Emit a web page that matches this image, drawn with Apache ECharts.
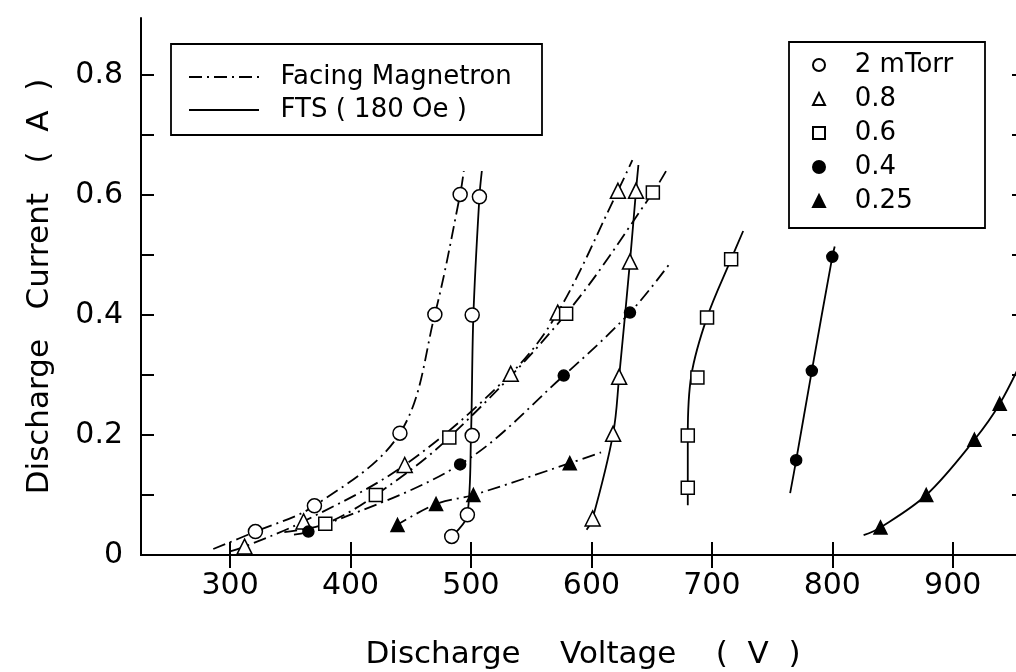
<!DOCTYPE html>
<html>
<head>
<meta charset="utf-8">
<script src="https://cdn.jsdelivr.net/npm/echarts@6/dist/echarts.min.js"></script>
<style>
html, body { margin: 0; padding: 0; background: #fff; }
#chart { width: 1016px; height: 672px; }
</style>
</head>
<body>
<div id="chart"></div>
<script>
// measured points [voltage V, current A]
// facing magnetron (dash-dot curves)
const fm2 = [[321, 0.039], [370, 0.082], [441, 0.203], [470, 0.401], [491, 0.601]];
const fm08 = [[312, 0.014], [361, 0.056], [445, 0.150], [533, 0.302], [572, 0.404], [622, 0.607]];
const fm06 = [[379, 0.052], [421, 0.100], [482, 0.196], [579, 0.402], [651, 0.604]];
const fm04 = [[365, 0.039], [491, 0.151], [577, 0.299], [632, 0.404]];
const fm025 = [[439, 0.050], [471, 0.085], [502, 0.100], [582, 0.153]];
// FTS 180 Oe (solid curves)
const fts2 = [[484, 0.031], [497, 0.067], [501, 0.199], [501, 0.400], [507, 0.597]];
const fts08 = [[601, 0.061], [618, 0.202], [623, 0.297], [632, 0.489], [637, 0.607]];
const fts06 = [[680, 0.112], [680, 0.199], [688, 0.296], [696, 0.396], [716, 0.493]];
const fts04 = [[770, 0.158], [783, 0.307], [800, 0.497]];
const fts025 = [[840, 0.046], [878, 0.100], [918, 0.192], [939, 0.252]];

// fitted curves
const fm2Curve = [[286, 0.010], [321, 0.039], [370, 0.082], [441, 0.203], [470, 0.401], [491, 0.601], [494, 0.640]];
const fm08Curve = [[300, 0.006], [312, 0.014], [361, 0.056], [445, 0.150], [533, 0.302], [572, 0.404], [622, 0.607], [634, 0.658]];
const fm06Curve = [[345, 0.038], [379, 0.052], [421, 0.100], [482, 0.196], [579, 0.402], [651, 0.604], [664, 0.647]];
const fm04Curve = [[353, 0.034], [365, 0.039], [491, 0.151], [577, 0.299], [632, 0.404], [664, 0.483]];
const fm025Curve = [[437, 0.048], [471, 0.085], [502, 0.100], [582, 0.153], [608, 0.171]];
const fts2Curve = [[484, 0.031], [497, 0.067], [500, 0.199], [502, 0.400], [507, 0.597], [509, 0.640]];
const fts08Curve = [[596, 0.042], [601, 0.061], [618, 0.202], [623, 0.297], [632, 0.489], [637, 0.607], [639, 0.650]];
const fts06Curve = [[680, 0.083], [680, 0.112], [680, 0.199], [683, 0.300], [696, 0.396], [716, 0.493], [726, 0.540]];
const fts04Curve = [[765, 0.103], [770, 0.158], [783, 0.307], [800, 0.497], [802, 0.514]];
const fts025Curve = [[826, 0.033], [840, 0.046], [878, 0.100], [918, 0.192], [939, 0.252], [960, 0.335]];

const xTicks = [300, 400, 500, 600, 700, 800, 900];
const yTicks = [0, 0.1, 0.2, 0.3, 0.4, 0.5, 0.6, 0.7, 0.8];
const yLabels = [0, 0.2, 0.4, 0.6, 0.8];

const FONT = 'DejaVu Sans';
const dashDot = [13, 5, 2, 5];

let chart = echarts.init(document.getElementById('chart'));

function curve(name, data, dashed) {
    return {
        name: name,
        type: 'line',
        data: data,
        smooth: 0.35,
        symbol: 'none',
        silent: true,
        z: 2,
        color: '#000',
        lineStyle: { color: '#000', width: 1.8, type: dashed ? dashDot : 'solid' }
    };
}

function marks(name, data, symbol, size, filled) {
    return {
        name: name,
        type: 'scatter',
        data: data,
        symbol: symbol,
        symbolSize: size,
        z: 3,
        itemStyle: {
            color: filled ? '#000' : '#fff',
            borderColor: '#000',
            borderWidth: 1.5,
            opacity: 1
        }
    };
}

let options = {
    animation: false,
    backgroundColor: '#fff',
    textStyle: { fontFamily: FONT, color: '#000' },
    grid: { left: 141, right: -9, top: 18, bottom: 117, outerBoundsMode: 'none' },
    xAxis: [
        {
            type: 'value', min: 226, max: 960, position: 'bottom',
            name: 'Discharge    Voltage    (  V  )',
            nameLocation: 'middle', nameGap: 84,
            nameTextStyle: { fontSize: 31, color: '#000', fontFamily: FONT },
            axisLine: { lineStyle: { color: '#000', width: 2 } },
            axisTick: { inside: true, length: 13, customValues: xTicks, lineStyle: { color: '#000', width: 2 } },
            axisLabel: { customValues: xTicks, fontSize: 30, color: '#000', margin: 16, fontFamily: FONT },
            splitLine: { show: false }
        },
        {
            type: 'value', min: 226, max: 960, position: 'top',
            axisLine: { lineStyle: { color: '#000', width: 2 } },
            axisTick: { inside: true, length: 13, customValues: xTicks, lineStyle: { color: '#000', width: 2 } },
            axisLabel: { show: false },
            splitLine: { show: false }
        }
    ],
    yAxis: [
        {
            type: 'value', min: 0, max: 0.895, position: 'left',
            name: 'Discharge   Current   (  A  )',
            nameLocation: 'middle', nameGap: 86,
            nameTextStyle: { fontSize: 31, color: '#000', fontFamily: FONT },
            axisLine: { lineStyle: { color: '#000', width: 2 } },
            axisTick: { inside: true, length: 13, customValues: yTicks, lineStyle: { color: '#000', width: 2 } },
            axisLabel: { customValues: yLabels, fontSize: 30, color: '#000', margin: 18, fontFamily: FONT },
            splitLine: { show: false }
        },
        {
            type: 'value', min: 0, max: 0.895, position: 'right',
            axisLine: { lineStyle: { color: '#000', width: 2 } },
            axisTick: { inside: true, length: 13, customValues: yTicks, lineStyle: { color: '#000', width: 2 } },
            axisLabel: { show: false },
            splitLine: { show: false }
        }
    ],
    legend: [
        {
            data: ['Facing Magnetron', 'FTS ( 180 Oe )'],
            orient: 'vertical', left: 188, top: 64, padding: 0,
            itemWidth: 70, itemHeight: 26, itemGap: 7,
            formatter: '  {name}',
            itemStyle: { opacity: 0 },
            textStyle: { fontSize: 26, color: '#000', fontFamily: FONT },
            selectedMode: false
        },
        {
            data: ['2 mTorr', '0.8', '0.6', '0.4', '0.25'],
            orient: 'vertical', left: 812, top: 52, padding: 0,
            itemWidth: 12, itemHeight: 12, itemGap: 8,
            formatter: '   {name}',
            textStyle: { fontSize: 26, color: '#000', fontFamily: FONT },
            selectedMode: false
        }
    ],
    graphic: [
        { type: 'rect', shape: { x: 171, y: 44, width: 371, height: 91 }, style: { fill: null, stroke: '#000', lineWidth: 1.8 }, z: 10 },
        { type: 'rect', shape: { x: 789, y: 42, width: 196, height: 186 }, style: { fill: null, stroke: '#000', lineWidth: 1.8 }, z: 10 }
    ],
    series: [
        // legend-only entries for line styles
        curve('Facing Magnetron', [], true),
        curve('FTS ( 180 Oe )', [], false),
        curve('fm2', fm2Curve, true),
        curve('fm08', fm08Curve, true),
        curve('fm06', fm06Curve, true),
        curve('fm04', fm04Curve, true),
        curve('fm025', fm025Curve, true),
        curve('fts2', fts2Curve, false),
        curve('fts08', fts08Curve, false),
        curve('fts06', fts06Curve, false),
        curve('fts04', fts04Curve, false),
        curve('fts025', fts025Curve, false),
        marks('2 mTorr', fm2.concat(fts2), 'circle', 14, false),
        marks('0.8', fm08.concat(fts08), 'triangle', 15, false),
        marks('0.6', fm06.concat(fts06), 'rect', 13, false),
        marks('0.4', fm04.concat(fts04), 'circle', 11, true),
        marks('0.25', fm025.concat(fts025), 'triangle', 13, true)
    ]
};

chart.setOption(options);
window.addEventListener('resize', () => {
    chart?.resize()
})
</script>
</body>
</html>
